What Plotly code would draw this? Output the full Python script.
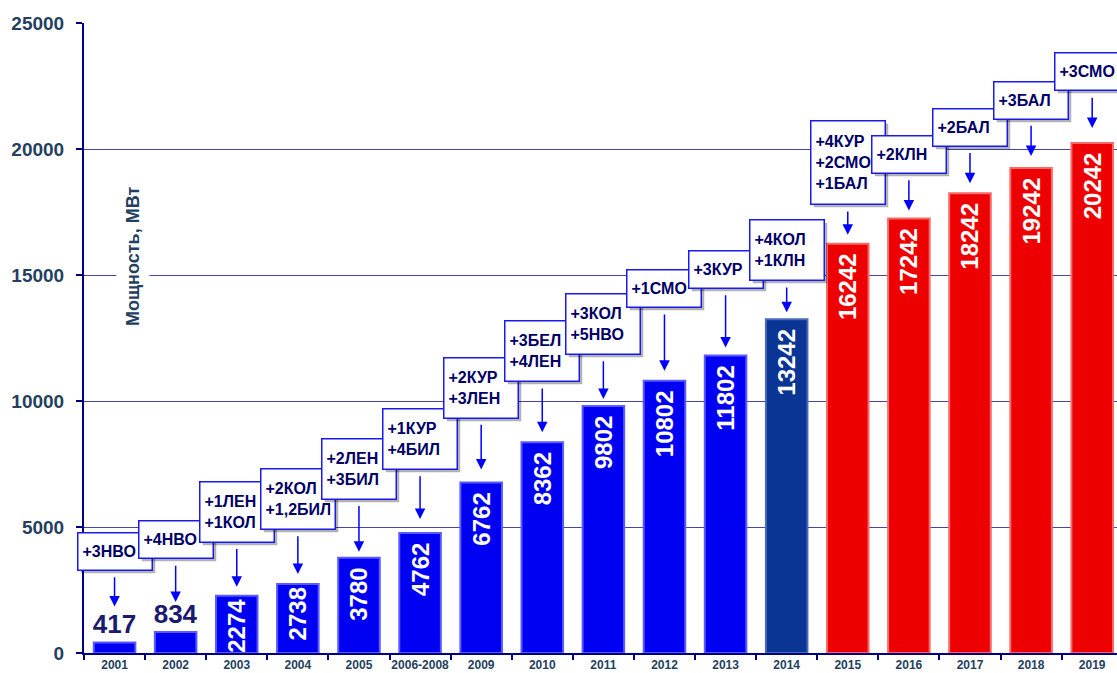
import plotly.graph_objects as go

# Installed capacity by year, MW
years = ["2001", "2002", "2003", "2004", "2005", "2006-2008", "2009", "2010",
         "2011", "2012", "2013", "2014", "2015", "2016", "2017", "2018", "2019"]
capacity = [417, 834, 2274, 2738, 3780, 4762, 6762, 8362,
            9802, 10802, 11802, 13242, 16242, 17242, 18242, 19242, 20242]

# Units commissioned in each period
additions = [
    ["+3НВО"],
    ["+4НВО"],
    ["+1ЛЕН", "+1КОЛ"],
    ["+2КОЛ", "+1,2БИЛ"],
    ["+2ЛЕН", "+3БИЛ"],
    ["+1КУР", "+4БИЛ"],
    ["+2КУР", "+3ЛЕН"],
    ["+3БЕЛ", "+4ЛЕН"],
    ["+3КОЛ", "+5НВО"],
    ["+1СМО"],
    ["+3КУР"],
    ["+4КОЛ", "+1КЛН"],
    ["+4КУР", "+2СМО", "+1БАЛ"],
    ["+2КЛН"],
    ["+2БАЛ"],
    ["+3БАЛ"],
    ["+3СМО"],
]

y_ticks = [0, 5000, 10000, 15000, 20000, 25000]

# Colour groups: built so far / current year / planned
BLUE, NAVY, RED = "#0000F2", "#0A3594", "#EE0000"
group_of = ["built"] * 11 + ["current"] + ["plan"] * 5

# Callout box offsets (px above the bar top) and arrow tip gaps (px)
callout_ay = [-91, -92, -84, -85, -89, -94, -95, -91, -82, -92, -86, -69,
              -81, -64, -66, -68, -71]
arrow_gap = [36, 30, 9, 10, 6, 14, 13, 10, 7, 10, 8, 7, 9, 8, 10, 12, 15]

AXIS_NAVY = "#000080"
LABEL_COL = "#243F60"
BOX_TEXT = "#000066"
BOX_EDGE = "#1A1AF0"
SANS = "Liberation Sans, Arial, sans-serif"

fig = go.Figure()

styles = {
    "built": (BLUE, "#5A5AFF"),
    "current": (NAVY, "#4A6AB8"),
    "plan": (RED, "#F56A6A"),
}

small_limit = 1000
for grp, (fill, edge) in styles.items():
    idx = [i for i, g in enumerate(group_of) if g == grp]
    big = [i for i in idx if capacity[i] >= small_limit]
    small = [i for i in idx if capacity[i] < small_limit]
    if big:
        fig.add_trace(go.Bar(
            x=[years[i] for i in big],
            y=[capacity[i] for i in big],
            text=[f"{capacity[i]}\u00a0" if capacity[i] > 3000 else f"{capacity[i]}"
                  for i in big],
            textposition="inside",
            insidetextanchor="end",
            textangle=-90,
            constraintext="none",
            textfont=dict(family=SANS, size=24, color="white", weight="bold"),
            marker=dict(color=fill, line=dict(color=edge, width=2)),
            width=0.68,
            cliponaxis=False,
            hoverinfo="skip",
            showlegend=False,
        ))
    if small:
        fig.add_trace(go.Bar(
            x=[years[i] for i in small],
            y=[capacity[i] for i in small],
            text=[str(capacity[i]) for i in small],
            textposition="outside",
            textangle=0,
            constraintext="none",
            textfont=dict(family=SANS, size=26, color="#1A1A6E", weight="bold"),
            marker=dict(color=fill, line=dict(color=edge, width=2)),
            width=0.68,
            cliponaxis=False,
            hoverinfo="skip",
            showlegend=False,
        ))

annotations = []
for i, (val, lines) in enumerate(zip(capacity, additions)):
    n = len(lines)
    box_h = 5 + 23 * n
    common = dict(
        x=i, y=val, xref="x", yref="y",
        ax=0, ay=callout_ay[i], axref="pixel", ayref="pixel",
        align="left", valign="middle",
        width=65, height=box_h, borderpad=4,
        showarrow=True, standoff=arrow_gap[i], startstandoff=7,
    )
    # soft drop shadow behind each callout box
    annotations.append(dict(
        common,
        text="\u00a0",
        font=dict(family=SANS, size=16, color="rgba(0,0,0,0)"),
        bgcolor="rgba(0,0,0,0.3)", bordercolor="rgba(0,0,0,0)", borderwidth=1.5,
        arrowcolor="rgba(0,0,0,0)", xshift=3, yshift=-3,
    ))
    annotations.append(dict(
        common,
        text="<br>".join(lines),
        font=dict(family=SANS, size=16, color=BOX_TEXT, weight="bold"),
        bgcolor="white", bordercolor=BOX_EDGE, borderwidth=1.5,
        arrowcolor="#0000FF", arrowhead=2, arrowsize=1.4, arrowwidth=1.5,
    ))

annotations.append(dict(
    text="Мощность, МВт", textangle=-90,
    x=0.0474, y=0.63, xref="paper", yref="paper",
    xanchor="center", yanchor="middle", showarrow=False,
    font=dict(family=SANS, size=18, color=LABEL_COL, weight="bold"),
    bgcolor="white", borderpad=6,
))

fig.update_layout(
    width=1117, height=673,
    margin=dict(l=84, r=0, t=23, b=20),
    paper_bgcolor="white", plot_bgcolor="white",
    barmode="overlay",
    annotations=annotations,
    showlegend=False,
    xaxis=dict(
        type="category",
        categoryorder="array", categoryarray=years,
        range=[-0.5, 16.406],
        showline=True, linecolor=AXIS_NAVY, linewidth=2,
        ticks="outside", tickson="boundaries", ticklen=5,
        tickcolor=AXIS_NAVY, tickwidth=1.5, tickangle=0,
        tickfont=dict(family=SANS, size=12, color=LABEL_COL, weight="bold"),
        showgrid=False, automargin=False, fixedrange=True,
    ),
    yaxis=dict(
        range=[0, 25000],
        tickvals=y_ticks, ticktext=[str(v) for v in y_ticks],
        showline=True, linecolor=AXIS_NAVY, linewidth=2,
        ticks="outside", ticklen=6, tickcolor=AXIS_NAVY, tickwidth=1.5,
        ticklabelstandoff=8,
        tickfont=dict(family=SANS, size=19, color=LABEL_COL, weight="bold"),
        showgrid=True, gridcolor="#4646A8", gridwidth=1,
        zeroline=False, automargin=False, fixedrange=True,
    ),
)

fig.write_html("out.html", config={"displayModeBar": False})
